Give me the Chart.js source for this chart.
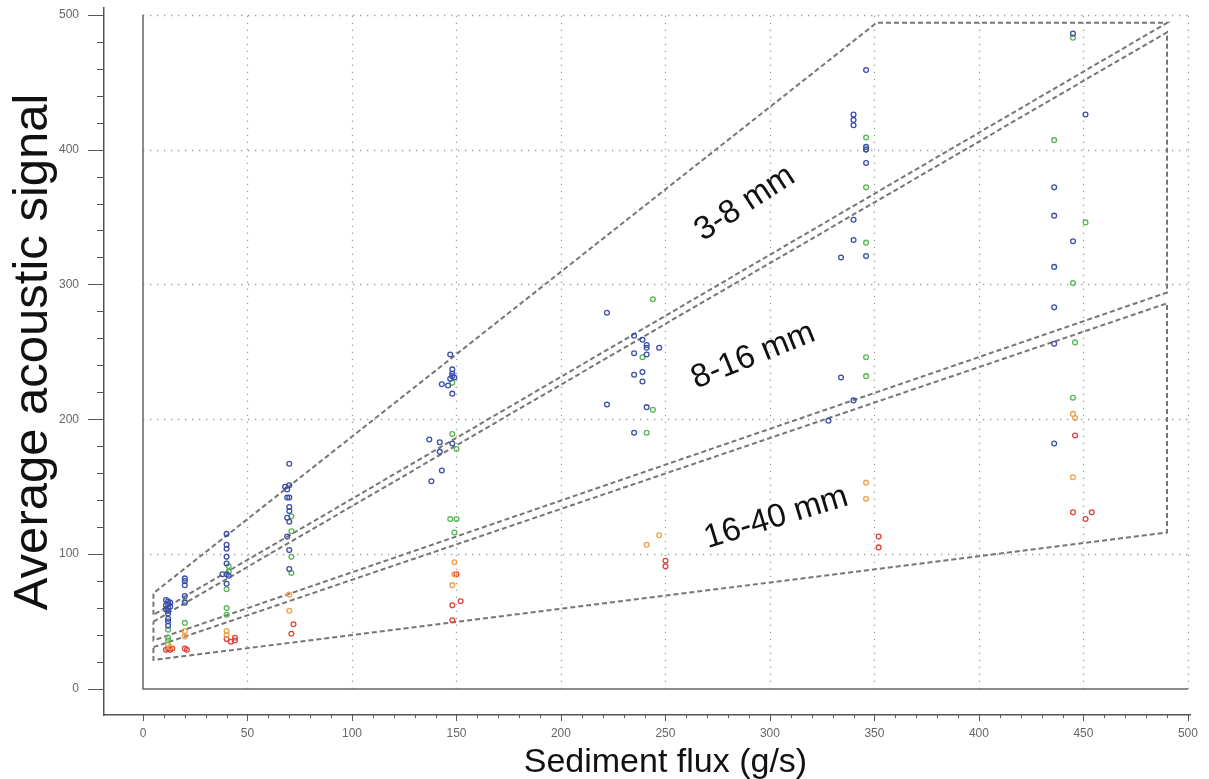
<!DOCTYPE html>
<html>
<head>
<meta charset="utf-8">
<title>Average acoustic signal vs sediment flux</title>
<script src="https://cdn.jsdelivr.net/npm/chart.js@4.4.1/dist/chart.umd.min.js"></script>
<style>
	html, body { margin: 0; padding: 0; background: #fff; }
	#wrap { width: 1209px; height: 779px; }
</style>
</head>
<body>
<div id="wrap"><canvas id="chart"></canvas></div>
<script>
// measured points [sediment flux, acoustic signal], one list per colour
var blue = [
	[11,66],[12,65],[13,64],[12,63],[11,62],[13,61],[12,60],[11,59],[12,58],[12,56],[12,52],[12,50],[12,47],
	[20,82],[20,80],[20,77],[20,69],[20,64],
	[40,115],[40,107],[40,104],[40,98],[40,93],[38,85],[40,85],[41,84],[40,78],
	[70,167],[70,151],[68,150],[69,148],[69,142],[70,142],[70,135],[70,132],[69,127],[70,124],[69,113],[70,103],[70,89],
	[147,248],[148,237],[148,234],[148,232],[149,231],[147,230],[143,226],[146,225],[148,219],[137,185],[142,183],[148,182],[142,176],[143,162],[138,154],
	[222,279],[235,262],[239,259],[241,255],[241,253],[247,253],[235,249],[241,248],[235,233],[239,235],[239,228],[222,211],[241,209],[235,190],
	[346,459],[340,426],[340,422],[340,418],[346,402],[346,400],[346,390],[340,348],[340,333],[334,320],[346,321],[334,231],[340,214],[328,199],
	[445,486],[451,426],[436,372],[436,351],[445,332],[436,313],[436,283],[436,256],[436,182]
];
var green = [
	[12,44],[12,38],[12,36],[20,65],[20,49],
	[41,91],[41,87],[40,74],[40,60],[40,55],
	[71,128],[71,117],[71,98],[71,86],
	[148,227],[148,189],[150,178],[147,126],[150,126],[149,116],
	[244,289],[239,246],[244,207],[241,190],
	[346,409],[346,400],[346,372],[346,331],[346,246],[346,232],
	[445,483],[436,407],[451,346],[445,301],[446,257],[445,216]
];
var orange = [
	[12,33],[13,31],[20,43],[20,39],[40,43],[40,40],[70,70],[70,58],
	[149,94],[149,85],[148,77],[241,107],[247,114],[346,153],[346,141],
	[445,204],[446,201],[445,157]
];
var red = [
	[12,30],[13,29],[14,30],[11,29],[20,30],[21,29],[40,37],[42,35],[44,38],[44,36],
	[72,48],[71,41],[150,85],[152,65],[148,62],[148,51],[250,95],[250,91],
	[352,113],[352,105],[446,188],[445,131],[454,131],[451,126]
];

// dashed outlines of the grain size classes
var zone3to8 = [[5,55],[5,71],[351,494],[490,494],[5,55]];
var zone8to16 = [[5,50],[490,487],[490,294],[5,36],[5,50]];
var zone16to40 = [[5,31],[490,286],[490,116],[5,21.5],[5,31]];
var zoneNames = ['3-8 mm', '8-16 mm', '16-40 mm'];

var xTicks = [0, 50, 100, 150, 200, 250, 300, 350, 400, 450, 500];
var yTicks = [0, 100, 200, 300, 400, 500];

var FONT = "'Liberation Sans', Arial, Helvetica, sans-serif";

function toXY(list) {
	return list.map(function(p) { return {x: p[0], y: p[1]}; });
}

function pointSet(label, list, color) {
	return {
		label: label,
		data: toXY(list),
		borderColor: color,
		backgroundColor: 'rgba(0,0,0,0)',
		pointRadius: 2.4,
		pointBorderWidth: 1.3,
		showLine: false,
		order: 1
	};
}

function zoneSet(label, list) {
	return {
		label: label,
		data: toXY(list),
		borderColor: '#767676',
		borderWidth: 2,
		borderDash: [5, 3],
		pointRadius: 0,
		showLine: true,
		fill: false,
		tension: 0,
		order: 2
	};
}

// the tick label padding must not push the plot area around
function noPadding(s) {
	s.paddingTop = 0;
	s.paddingBottom = 0;
	s.paddingLeft = 0;
	s.paddingRight = 0;
}

var decor = {
	id: 'decor',
	beforeDatasetsDraw: function(chart) {
		var ctx = chart.ctx, xs = chart.scales.x, ys = chart.scales.y;
		var x0 = xs.getPixelForValue(0), x1 = xs.getPixelForValue(500);
		var y0 = ys.getPixelForValue(0), y1 = ys.getPixelForValue(500);
		var v, p;
		ctx.save();
		// dotted grid inside the data frame
		ctx.strokeStyle = '#9c9c9c';
		ctx.lineWidth = 1.3;
		ctx.setLineDash([1.3, 5.7]);
		ctx.beginPath();
		for (v = 50; v <= 500; v += 50) {
			p = Math.round(xs.getPixelForValue(v)) + 0.5;
			ctx.moveTo(p, y0);
			ctx.lineTo(p, y1);
		}
		for (v = 100; v <= 500; v += 100) {
			p = Math.round(ys.getPixelForValue(v)) + 0.5;
			ctx.moveTo(x0, p);
			ctx.lineTo(x1, p);
		}
		ctx.stroke();
		// solid frame on x = 0 and y = 0
		ctx.setLineDash([]);
		ctx.strokeStyle = '#666';
		ctx.lineWidth = 1.5;
		ctx.beginPath();
		ctx.moveTo(x0, y1);
		ctx.lineTo(x0, y0);
		ctx.lineTo(x1, y0);
		ctx.stroke();
		// major and minor tick marks on the outer axes
		ctx.strokeStyle = '#555';
		ctx.lineWidth = 1;
		ctx.beginPath();
		for (v = 0; v <= 500; v += 10) {
			p = Math.round(xs.getPixelForValue(v)) + 0.5;
			ctx.moveTo(p, xs.top);
			ctx.lineTo(p, xs.top + (v % 50 === 0 ? 6 : 3));
		}
		for (v = 0; v <= 500; v += 20) {
			p = Math.round(ys.getPixelForValue(v)) + 0.5;
			ctx.moveTo(ys.right, p);
			ctx.lineTo(ys.right - (v % 100 === 0 ? 16 : 7), p);
		}
		ctx.stroke();
		ctx.restore();
	},
	afterDatasetsDraw: function(chart) {
		var ctx = chart.ctx, xs = chart.scales.x, ys = chart.scales.y;
		var at = [[288, 360], [292, 247], [303, 127]];
		var angle = [-33, -22, -17];
		ctx.save();
		ctx.fillStyle = '#111';
		ctx.font = '33px ' + FONT;
		ctx.textAlign = 'center';
		ctx.textBaseline = 'middle';
		zoneNames.forEach(function(name, i) {
			ctx.save();
			ctx.translate(xs.getPixelForValue(at[i][0]), ys.getPixelForValue(at[i][1]));
			ctx.rotate(angle[i] * Math.PI / 180);
			ctx.fillText(name, 0, 0);
			ctx.restore();
		});
		ctx.restore();
	},
	afterDraw: function(chart) {
		var ctx = chart.ctx, xs = chart.scales.x, ys = chart.scales.y;
		ctx.save();
		ctx.fillStyle = '#111';
		ctx.textAlign = 'center';
		ctx.textBaseline = 'alphabetic';
		ctx.font = '34px ' + FONT;
		ctx.fillText('Sediment flux (g/s)', xs.getPixelForValue(250), 772);
		ctx.translate(47, ys.getPixelForValue(250));
		ctx.rotate(-Math.PI / 2);
		ctx.font = '49px ' + FONT;
		ctx.fillText('Average acoustic signal', 0, 0);
		ctx.restore();
	}
};

new Chart(document.getElementById('chart'), {
	type: 'scatter',
	data: {
		datasets: [
			pointSet('blue', blue, '#3d4fa6'),
			pointSet('green', green, '#58b555'),
			pointSet('orange', orange, '#eea14c'),
			pointSet('red', red, '#e0433d'),
			zoneSet('3-8 mm', zone3to8),
			zoneSet('8-16 mm', zone8to16),
			zoneSet('16-40 mm', zone16to40)
		]
	},
	options: {
		responsive: true,
		maintainAspectRatio: false,
		animation: false,
		layout: { padding: { top: 8, right: 19, left: 0, bottom: 0 } },
		plugins: {
			legend: { display: false },
			tooltip: { enabled: false }
		},
		scales: {
			x: {
				type: 'linear',
				min: -18.66,
				max: 501,
				afterBuildTicks: function(s) {
					s.ticks = xTicks.map(function(v) { return {value: v}; });
				},
				afterFit: function(s) { s.height = 64; noPadding(s); },
				ticks: {
					color: '#666',
					font: { family: FONT, size: 12 },
					padding: 11,
					maxRotation: 0,
					autoSkip: false
				},
				grid: { display: false, drawTicks: false },
				border: { display: true, color: '#555', width: 1.5 }
			},
			y: {
				type: 'linear',
				min: -19.3,
				max: 505,
				afterBuildTicks: function(s) {
					s.ticks = yTicks.map(function(v) { return {value: v}; });
				},
				afterFit: function(s) { s.width = 104; noPadding(s); },
				ticks: {
					color: '#666',
					font: { family: FONT, size: 12 },
					padding: 25,
					autoSkip: false
				},
				grid: { display: false, drawTicks: false },
				border: { display: true, color: '#555', width: 1.5 }
			}
		}
	},
	plugins: [decor]
});
</script>
</body>
</html>
